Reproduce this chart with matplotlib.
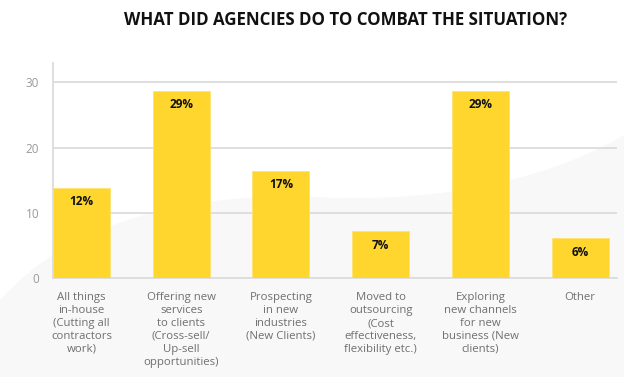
import numpy as np
import matplotlib.pyplot as plt
from matplotlib.path import Path
from matplotlib.patches import PathPatch

categories = ['All things\nin-house\n(Cutting all\ncontractors\nwork)',
              'Offering new\nservices\nto clients\n(Cross-sell/\nUp-sell\nopportunities)',
              'Prospecting\nin new\nindustries\n(New Clients)',
              'Moved to\noutsourcing\n(Cost\neffectiveness,\nflexibility etc.)',
              'Exploring\nnew channels\nfor new\nbusiness (New\nclients)',
              'Other']
values = [13.9, 28.7, 16.5, 7.2, 28.7, 6.1]
value_labels = ['12%', '29%', '17%', '7%', '29%', '6%']
yticks = [0, 10, 20, 30]

plt.rcParams['font.family'] = ['Open Sans', 'DejaVu Sans']

W, H = 624, 377
fig = plt.figure(figsize=(W / 100, H / 100), dpi=100)

# soft grey swoosh in the background (pixel coords from the top-left)
pts = [(0, 300), (70, 222), (180, 196), (300, 196),
       (420, 205), (540, 185), (624, 135),
       (624, 377), (0, 377), (0, 300)]
codes = [Path.MOVETO, Path.CURVE4, Path.CURVE4, Path.CURVE4,
         Path.CURVE4, Path.CURVE4, Path.CURVE4,
         Path.LINETO, Path.LINETO, Path.CLOSEPOLY]
verts = [(x / W, 1 - y / H) for x, y in pts]
fig.patches.append(PathPatch(Path(verts, codes), transform=fig.transFigure,
                             facecolor='#f8f8f8', edgecolor='none', zorder=-5))

ax = fig.add_axes([53 / W, 1 - 278.3 / H, (617 - 53) / W, (278.3 - 62.8) / H])
ax.set_zorder(2)
ax.patch.set_alpha(0)

x = np.arange(len(values))
bars = ax.bar(x, values, width=0.57, color='#ffd62e', edgecolor='#ffe270',
              linewidth=0.6, zorder=3)
for b, lab in zip(bars, value_labels):
    ax.annotate(lab, (b.get_x() + b.get_width() / 2, b.get_height()),
                xytext=(0, -10), textcoords='offset points', ha='center', va='center',
                fontsize=8.5, fontweight='bold', color='#111111', zorder=4)

ax.set_xlim(-0.285, 5.37)
ax.set_ylim(0, 33)
ax.set_yticks(yticks)
ax.set_xticks(x)
ax.set_xticklabels(categories, fontsize=8.2, color='#6f6f6f', linespacing=1.24, va='top')
ax.tick_params(axis='x', length=0, pad=10)
ax.tick_params(axis='y', length=0, pad=10, labelsize=8.5, labelcolor='#9a9a9a')
ax.grid(axis='y', color='#dcdcdc', linewidth=1.3, zorder=1)
for s in ['top', 'right']:
    ax.spines[s].set_visible(False)
ax.spines['left'].set_color('#dcdcdc')
ax.spines['left'].set_linewidth(1.3)
ax.spines['bottom'].set_color('#dcdcdc')
ax.spines['bottom'].set_linewidth(1.3)

fig.text(346 / W, 1 - 20 / H, 'WHAT DID AGENCIES DO TO COMBAT THE SITUATION?',
         ha='center', va='center', fontsize=12.2, fontweight='bold', color='#111111')

fig.savefig('out.png', dpi=100)
